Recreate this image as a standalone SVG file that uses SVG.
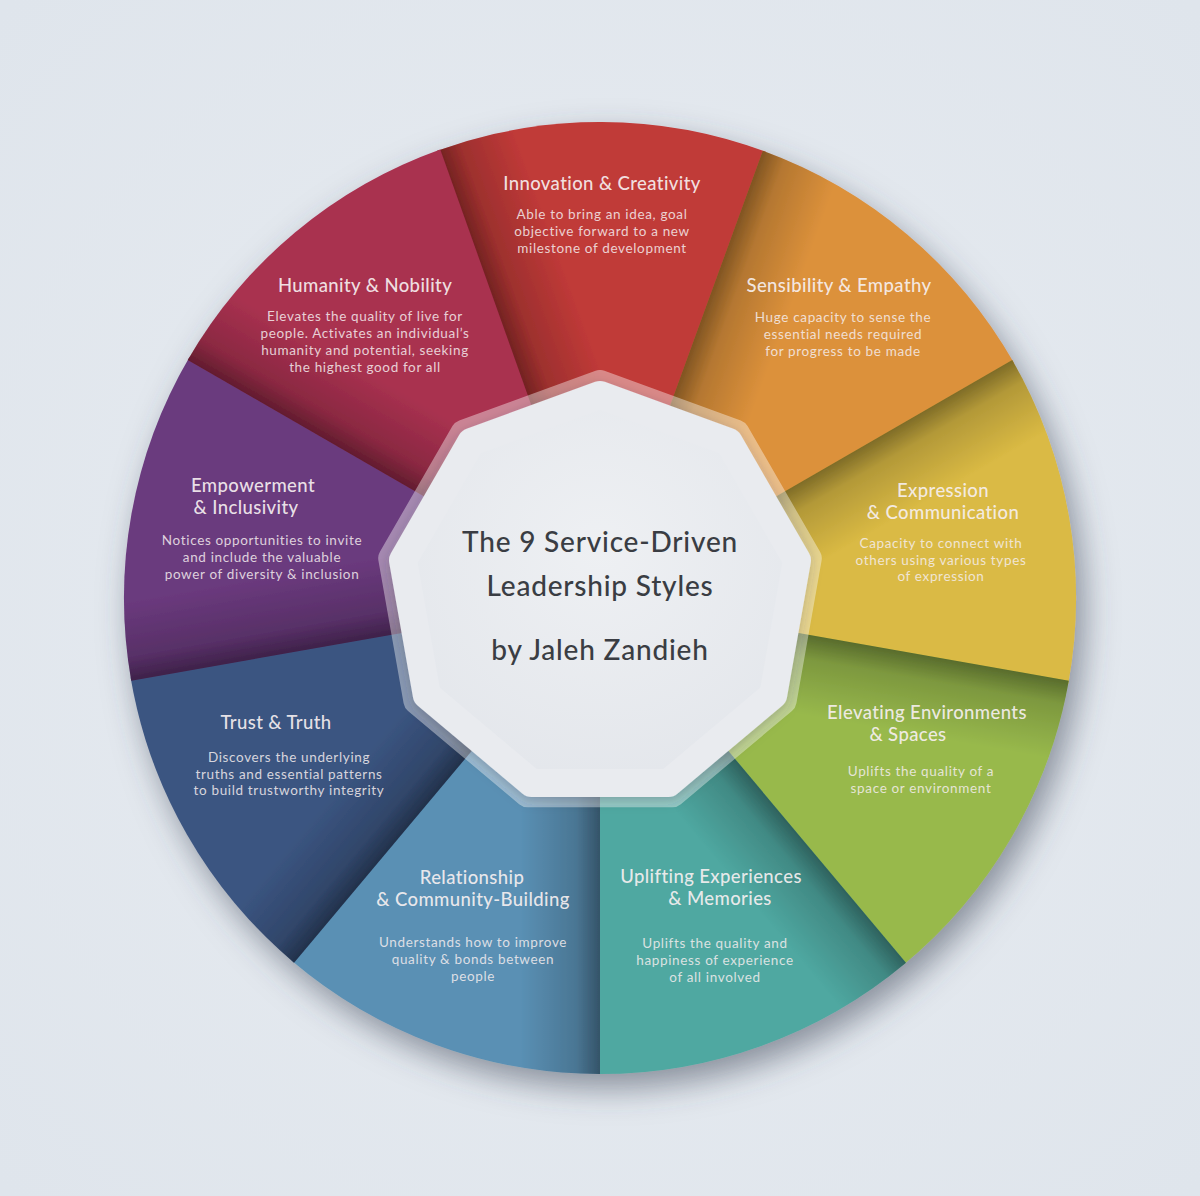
<svg xmlns="http://www.w3.org/2000/svg" xmlns:xlink="http://www.w3.org/1999/xlink" width="1200" height="1196" viewBox="0 0 1200 1196">
  <defs>
    <style>
      .ttl { font-family: Lato, "Open Sans", "Liberation Sans", sans-serif; font-size: 18.5px; font-weight: 500; letter-spacing: 0.4px; fill: #F7F0F1; fill-opacity: 0.92; text-anchor: middle; }
      .body { font-family: Lato, "Open Sans", "Liberation Sans", sans-serif; font-size: 13.5px; letter-spacing: 0.65px; fill: #F5EEEF; fill-opacity: 0.85; text-anchor: middle; }
      .ctr { font-family: Lato, "Open Sans", "Liberation Sans", sans-serif; font-size: 28px; font-weight: 500; letter-spacing: 0.8px; fill: #3A3D43; text-anchor: middle; }
    </style>
    <radialGradient id="bg" cx="50%" cy="50%" r="70%">
      <stop offset="0" stop-color="#E8ECF1"/>
      <stop offset="1" stop-color="#DFE5EC"/>
    </radialGradient>
    <linearGradient id="sh" gradientUnits="userSpaceOnUse" x1="-85.5" y1="-235" x2="-10.3" y2="-262.4">
      <stop offset="0" stop-color="#000" stop-opacity="0.42"/>
      <stop offset="0.3" stop-color="#000" stop-opacity="0.18"/>
      <stop offset="1" stop-color="#000" stop-opacity="0"/>
    </linearGradient>
    <path id="wedge" d="M0,0 L-162.8,-447.3 A476,476 0 0 1 165.9,-446.2 Z"/>
    <filter id="wheelShadow" x="-20%" y="-20%" width="140%" height="140%">
      <feDropShadow dx="8" dy="14" stdDeviation="16" flood-color="#404659" flood-opacity="0.55"/>
    </filter>
    <filter id="hexShadow" x="-20%" y="-20%" width="140%" height="140%">
      <feDropShadow dx="0" dy="4" stdDeviation="6" flood-color="#30343C" flood-opacity="0.25"/>
    </filter>
    <radialGradient id="white" cx="50%" cy="40%" r="65%">
      <stop offset="0" stop-color="#EEF0F3"/>
      <stop offset="1" stop-color="#E3E6EB"/>
    </radialGradient>
  </defs>

  <rect width="1200" height="1196" fill="url(#bg)"/>

  <g id="wheel" filter="url(#wheelShadow)">
    <circle cx="600" cy="598" r="475" fill="#6A4A60"/>
    <g id="seg-innovation" transform="translate(600,598)">
      <use href="#wedge" fill="#C03A38"/>
      <use href="#wedge" fill="url(#sh)"/>
    </g>
    <g id="seg-sensibility" transform="translate(600,598) rotate(40)">
      <use href="#wedge" fill="#DC913B"/>
      <use href="#wedge" fill="url(#sh)"/>
    </g>
    <g id="seg-expression" transform="translate(600,598) rotate(80)">
      <use href="#wedge" fill="#DABA44"/>
      <use href="#wedge" fill="url(#sh)"/>
    </g>
    <g id="seg-elevating" transform="translate(600,598) rotate(120)">
      <use href="#wedge" fill="#98B94C"/>
      <use href="#wedge" fill="url(#sh)"/>
    </g>
    <g id="seg-uplifting" transform="translate(600,598) rotate(160)">
      <use href="#wedge" fill="#4FA8A1"/>
      <use href="#wedge" fill="url(#sh)"/>
    </g>
    <g id="seg-relationship" transform="translate(600,598) rotate(200)">
      <use href="#wedge" fill="#5A90B4"/>
      <use href="#wedge" fill="url(#sh)"/>
    </g>
    <g id="seg-trust" transform="translate(600,598) rotate(240)">
      <use href="#wedge" fill="#3B5581"/>
      <use href="#wedge" fill="url(#sh)"/>
    </g>
    <g id="seg-empowerment" transform="translate(600,598) rotate(280)">
      <use href="#wedge" fill="#6B3A7E"/>
      <use href="#wedge" fill="url(#sh)"/>
    </g>
    <g id="seg-humanity" transform="translate(600,598) rotate(320)">
      <use href="#wedge" fill="#A93150"/>
      <use href="#wedge" fill="url(#sh)"/>
    </g>
  </g>

  <g id="labels">
    <g id="txt-innovation">
      <text class="ttl" x="602" y="190">Innovation &amp; Creativity</text>
      <text class="body" x="602" y="219">Able to bring an idea, goal</text>
      <text class="body" x="602" y="236">objective forward to a new</text>
      <text class="body" x="602" y="253">milestone of development</text>
    </g>
    <g id="txt-humanity">
      <text class="ttl" x="365" y="292">Humanity &amp; Nobility</text>
      <text class="body" x="365" y="321">Elevates the quality of live for</text>
      <text class="body" x="365" y="338">people. Activates an individual’s</text>
      <text class="body" x="365" y="355">humanity and potential, seeking</text>
      <text class="body" x="365" y="372">the highest good for all</text>
    </g>
    <g id="txt-sensibility">
      <text class="ttl" x="839" y="292">Sensibility &amp; Empathy</text>
      <text class="body" x="843" y="322">Huge capacity to sense the</text>
      <text class="body" x="843" y="339">essential needs required</text>
      <text class="body" x="843" y="356">for progress to be made</text>
    </g>
    <g id="txt-empowerment">
      <text class="ttl" x="253" y="492">Empowerment</text>
      <text class="ttl" x="246" y="514">&amp; Inclusivity</text>
      <text class="body" x="262" y="545">Notices opportunities to invite</text>
      <text class="body" x="262" y="562">and include the valuable</text>
      <text class="body" x="262" y="579">power of diversity &amp; inclusion</text>
    </g>
    <g id="txt-expression">
      <text class="ttl" x="943" y="497">Expression</text>
      <text class="ttl" x="943" y="519">&amp; Communication</text>
      <text class="body" x="941" y="548">Capacity to connect with</text>
      <text class="body" x="941" y="565">others using various types</text>
      <text class="body" x="941" y="581">of expression</text>
    </g>
    <g id="txt-trust">
      <text class="ttl" x="276" y="729">Trust &amp; Truth</text>
      <text class="body" x="289" y="762">Discovers the underlying</text>
      <text class="body" x="289" y="779">truths and essential patterns</text>
      <text class="body" x="289" y="795">to build trustworthy integrity</text>
    </g>
    <g id="txt-elevating">
      <text class="ttl" x="927" y="719">Elevating Environments</text>
      <text class="ttl" x="908" y="741">&amp; Spaces</text>
      <text class="body" x="921" y="776">Uplifts the quality of a</text>
      <text class="body" x="921" y="793">space or environment</text>
    </g>
    <g id="txt-relationship">
      <text class="ttl" x="472" y="884">Relationship</text>
      <text class="ttl" x="473" y="906">&amp; Community-Building</text>
      <text class="body" x="473" y="947">Understands how to improve</text>
      <text class="body" x="473" y="964">quality &amp; bonds between</text>
      <text class="body" x="473" y="981">people</text>
    </g>
    <g id="txt-uplifting">
      <text class="ttl" x="711" y="883">Uplifting Experiences</text>
      <text class="ttl" x="720" y="905">&amp; Memories</text>
      <text class="body" x="715" y="948">Uplifts the quality and</text>
      <text class="body" x="715" y="965">happiness of experience</text>
      <text class="body" x="715" y="982">of all involved</text>
    </g>
  </g>

  <g id="center">
    <g opacity="0.4">
      <polygon points="600,383 736.3,432.6 808.8,558.2 783.6,701 672.5,794.2 527.5,794.2 416.4,701 391.2,558.2 463.7,432.6" fill="#FFFFFF" stroke="#FFFFFF" stroke-width="26" stroke-linejoin="round"/>
    </g>
    <polygon filter="url(#hexShadow)" points="600,395 728.6,441.8 797,560.3 773.2,695 668.4,782.9 531.6,782.9 426.8,695 403,560.3 471.4,441.8" fill="url(#white)" stroke="#E9EBEF" stroke-width="28" stroke-linejoin="round"/>
    <text class="ctr" x="600" y="552">The 9 Service-Driven</text>
    <text class="ctr" x="600" y="596">Leadership Styles</text>
    <text class="ctr" x="600" y="660">by Jaleh Zandieh</text>
  </g>
</svg>
